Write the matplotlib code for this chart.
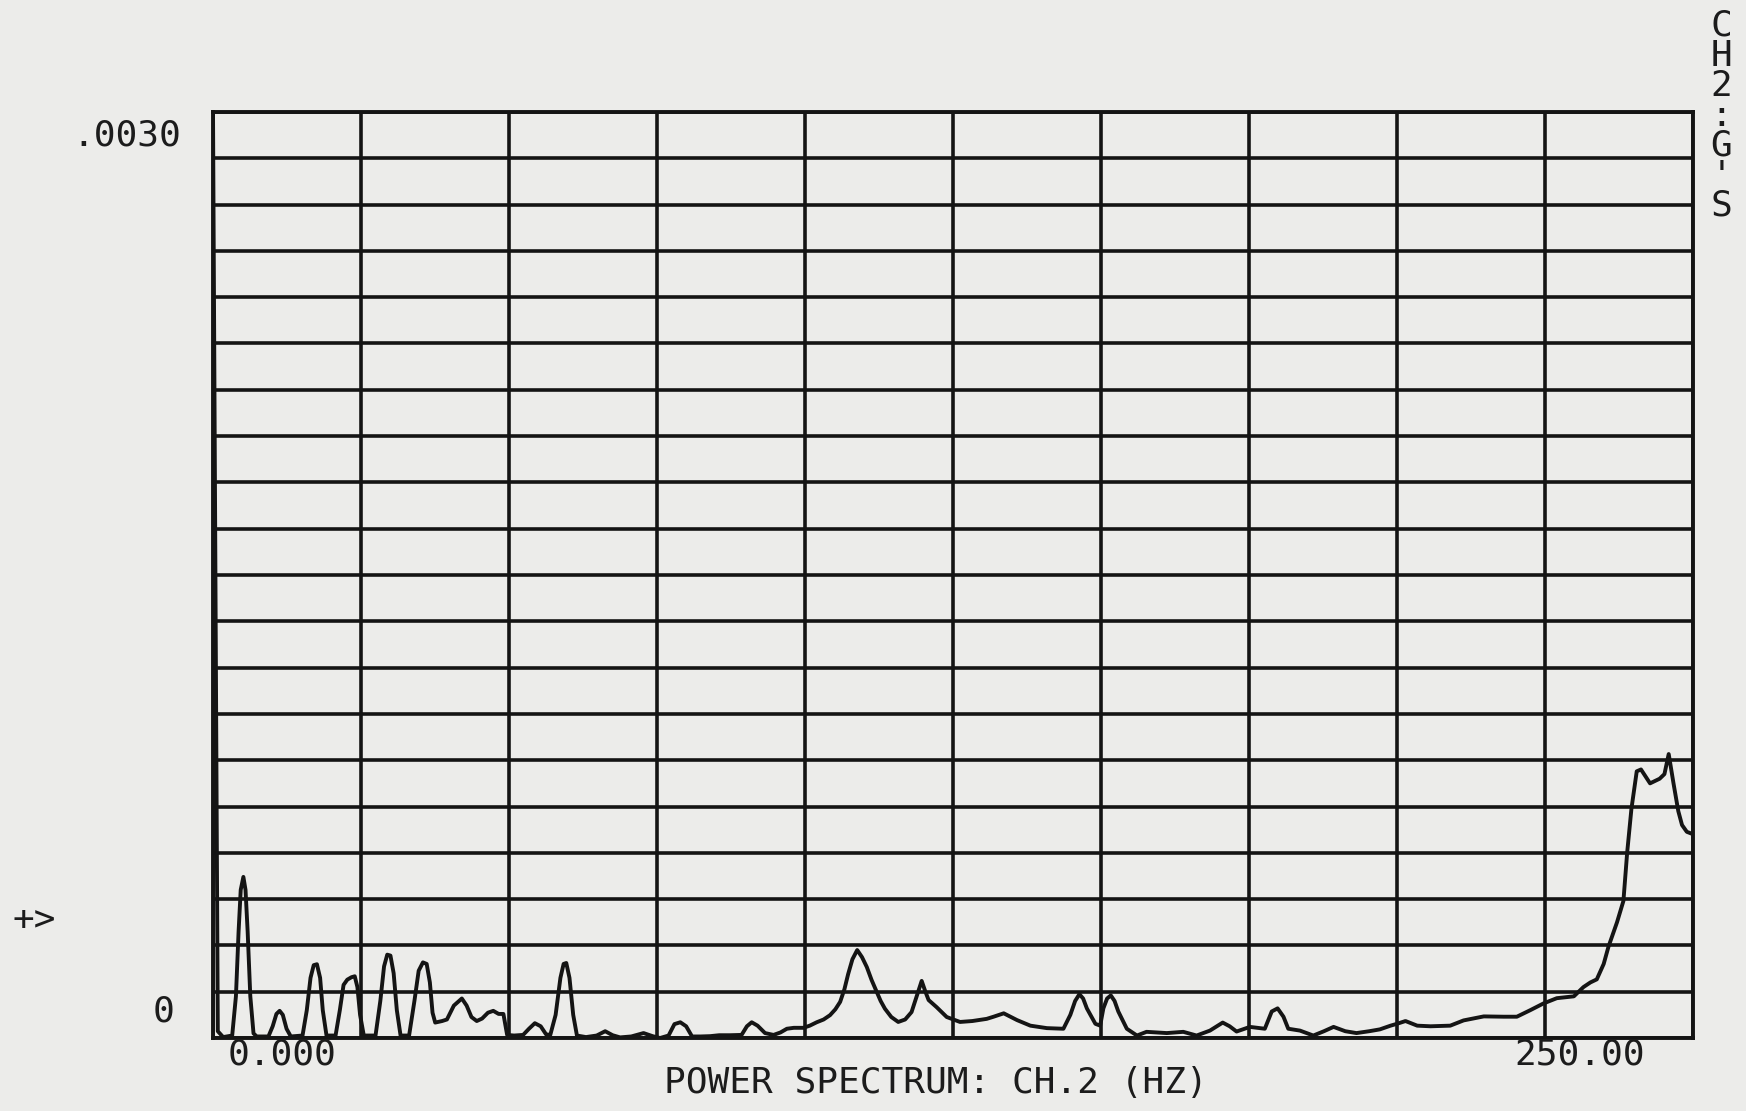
import numpy as np
import matplotlib.pyplot as plt

# Power spectrum trace (frequency in Hz, power in units of 1e-4)
freq_hz = [
    0.0, 0.9, 1.9, 3.6, 4.3, 4.8, 5.2, 5.7, 6.1, 6.5, 7.0, 7.6, 8.2,
    10.4, 11.2, 11.9, 12.5, 13.1, 13.8, 14.6,
    16.8, 17.6, 18.3, 18.9, 19.5, 20.1, 20.6, 21.3,
    23.0, 23.8, 24.5, 25.2, 26.0, 26.6, 27.1, 27.6, 28.3,
    30.5, 31.4, 32.1, 32.7, 33.3, 33.9, 34.5, 35.2,
    36.8, 37.8, 38.6, 39.4, 40.1, 40.7, 41.2, 41.7, 43.0, 43.9, 45.2, 46.7,
    47.6, 48.5, 49.5, 50.5, 51.6, 52.6, 53.6, 54.5, 55.2,
    56.5, 58.2, 59.3, 60.4, 61.5, 62.5, 63.3, 64.3, 65.2, 65.8, 66.3, 66.9,
    67.6, 68.3,
    70.0, 72.0, 73.6, 75.0, 76.4, 78.5, 80.8, 82.5, 83.9, 85.5, 86.6, 87.7,
    88.8, 89.9, 91.5, 93.3, 95.0, 97.0, 99.2, 100.2, 101.1, 102.2, 103.6,
    105.2, 106.5, 107.7, 109.0, 110.8, 112.0, 113.3, 114.6, 115.8, 116.8,
    117.7, 118.5, 119.2, 120.0, 120.9, 121.8, 122.7, 123.6, 124.5, 125.3,
    126.1, 127.3, 128.6, 129.9, 131.1, 132.2, 133.0, 133.7, 134.3, 135.8,
    137.7, 140.2, 142.5, 145.2,
    146.5, 148.4, 150.9, 153.4, 156.5, 159.6, 160.9, 161.8, 162.6, 163.3,
    164.0, 165.6, 166.5, 167.1, 167.8, 168.5, 169.2, 169.9, 171.5, 173.4,
    175.2, 179.0, 182.1, 184.6, 187.1, 189.5, 190.8, 192.1, 194.6, 197.4,
    198.7, 199.8, 200.9, 201.8, 204.0, 206.5, 208.5, 210.3, 212.5, 214.6,
    217.0, 219.0,
    221.0, 222.2, 223.8, 226.0, 228.5, 232.2, 234.7, 238.5, 242.2, 244.7,
    247.2, 249.7, 252.2, 255.4, 257.2, 258.5, 259.7, 261.0, 261.9, 263.5,
    264.7, 265.4, 266.2, 267.2, 268.0, 269.7, 271.5, 272.4, 273.2, 274.1,
    275.0, 275.7, 276.6, 277.8,
]
power_e4 = [
    30.0, 0.22, 0.03, 0.08, 1.35, 3.45, 4.8, 5.22, 4.8, 3.45, 1.35, 0.15, 0.05,
    0.05, 0.38, 0.78, 0.88, 0.75, 0.3, 0.05,
    0.08, 0.9, 1.95, 2.36, 2.39, 1.95, 0.9, 0.08,
    0.08, 0.9, 1.72, 1.89, 1.97, 2.0, 1.65, 0.75, 0.08,
    0.08, 1.2, 2.32, 2.7, 2.67, 2.1, 0.9, 0.08,
    0.08, 1.2, 2.18, 2.45, 2.4, 1.8, 0.82, 0.5, 0.55, 0.6, 1.05, 1.28,
    1.05, 0.68, 0.55, 0.63, 0.82, 0.88, 0.78, 0.78, 0.1,
    0.08, 0.1, 0.3, 0.48, 0.38, 0.12, 0.1, 0.75, 1.95, 2.4, 2.43, 1.95,
    0.75, 0.08,
    0.03, 0.08, 0.22, 0.09, 0.02, 0.05, 0.16, 0.06, 0.0, 0.08, 0.45, 0.51,
    0.38, 0.05, 0.05, 0.06, 0.09, 0.09, 0.1, 0.38, 0.51, 0.4, 0.16,
    0.1, 0.18, 0.3, 0.33, 0.33, 0.4, 0.51, 0.6, 0.74, 0.93,
    1.17, 1.58, 2.07, 2.55, 2.85, 2.62, 2.3, 1.88, 1.52, 1.2,
    0.95, 0.68, 0.52, 0.6, 0.84, 1.42, 1.85, 1.5, 1.23, 1.0,
    0.68, 0.52, 0.55, 0.62,
    0.69, 0.8, 0.58, 0.4, 0.32, 0.3, 0.75, 1.2, 1.42, 1.28,
    0.96, 0.46, 0.4, 0.96, 1.28, 1.38, 1.2, 0.86, 0.3, 0.08,
    0.2, 0.16, 0.2, 0.08, 0.24, 0.5, 0.38, 0.21, 0.36, 0.3,
    0.86, 0.96, 0.69, 0.3, 0.24, 0.08, 0.22, 0.36, 0.22, 0.16,
    0.22, 0.28,
    0.4, 0.46, 0.55, 0.4, 0.38, 0.4, 0.57, 0.7, 0.69, 0.69,
    0.9, 1.12, 1.29, 1.35, 1.65, 1.8, 1.9, 2.4, 2.96, 3.75,
    4.44, 6.0, 7.42, 8.64, 8.7, 8.25, 8.4, 8.55, 9.2, 8.25,
    7.35, 6.9, 6.68, 6.6,
]

x_max = 250.0 * 10 / 9   # 250 Hz falls on the ninth grid line
y_max = 0.0030
paper = "#ececea"
ink = "#141414"

power = np.array(power_e4) * 1e-4

fig = plt.figure(figsize=(17.46, 11.11), dpi=100, facecolor=paper)
ax = fig.add_axes([0.122, 0.0657, 0.8477, 0.8335], facecolor=paper)

ax.plot(freq_hz, power, color=ink, linewidth=2.8, solid_joinstyle="round")

ax.set_xlim(0, x_max)
ax.set_ylim(0, y_max)
ax.set_xticks(np.linspace(0, x_max, 11))
ax.set_yticks(np.linspace(0, y_max, 21))
ax.tick_params(length=0, labelbottom=False, labelleft=False)
ax.grid(True, color=ink, linewidth=2.6)
ax.set_axisbelow(True)
for s in ax.spines.values():
    s.set_color(ink)
    s.set_linewidth(2.8)

font = dict(family="DejaVu Sans Mono", color="#1c1c1c", fontsize=26)

fig.text(0.1037, 0.8776, ".0030", ha="right", va="center", **font)
fig.text(0.0997, 0.0900, "0", ha="right", va="center", **font)
fig.text(0.0074, 0.1720, "+>", ha="left", va="center", **font)
fig.text(0.1306, 0.0513, "0.000", ha="left", va="center", **font)
fig.text(0.8671, 0.0513, "250.00", ha="left", va="center", **font)
fig.text(0.5360, 0.0252, "POWER SPECTRUM: CH.2 (HZ)", ha="center", va="center", **font)
fig.text(0.9857, 0.9920, "C\nH\n2\n:\nG\n'\nS", ha="center", va="top",
         linespacing=0.85, **font)

fig.savefig("out.png", dpi=100, facecolor=paper)
